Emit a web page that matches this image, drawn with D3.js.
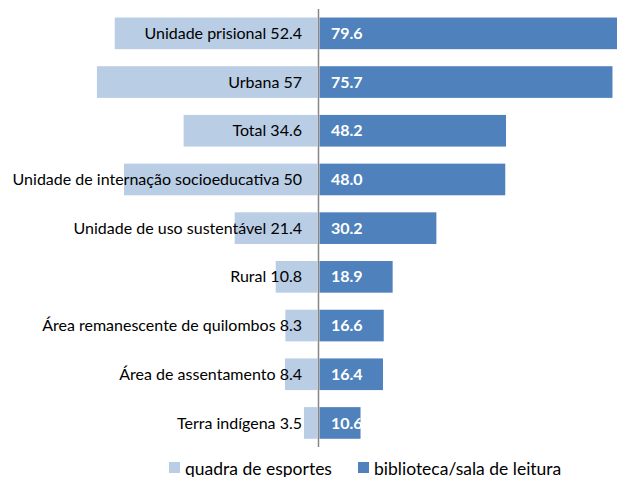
<!DOCTYPE html>
<html>
<head>
<meta charset="utf-8">
<script src="https://cdn.jsdelivr.net/npm/d3@7"></script>
<style>
  body { margin: 0; background: #fff; }
  svg { display: block; font-family: Lato, "Open Sans", sans-serif; }
</style>
</head>
<body>
<svg></svg>
<script>
var width = 617;
var height = 477;

var categories = [
  "Unidade prisional", "Urbana", "Total", "Unidade de internação socioeducativa",
  "Unidade de uso sustentável", "Rural", "Área remanescente de quilombos",
  "Área de assentamento", "Terra indígena"
];
var quadra = [52.4, 57, 34.6, 50, 21.4, 10.8, 8.3, 8.4, 3.5];
var quadraLabels = ["52.4", "57", "34.6", "50", "21.4", "10.8", "8.3", "8.4", "3.5"];
var biblioteca = [79.6, 75.7, 48.2, 48.0, 30.2, 18.9, 16.6, 16.4, 10.6];
var seriesNames = ["quadra de esportes", "biblioteca/sala de leitura"];
var colors = ["#b9cde5", "#4f81bd"];

var center = 318.5;

var svg = d3.select("svg")
    .attr("width", width)
    .attr("height", height);

var y = d3.scaleBand()
    .domain(categories)
    .range([9, 447.3])
    .paddingInner(0.35)
    .paddingOuter(0.175);

// same px per unit on both sides
var xR = d3.scaleLinear().domain([0, 80]).range([center + 1, center + 1 + 80 * 3.87]);
var xL = d3.scaleLinear().domain([0, 80]).range([center - 1, center - 1 - 80 * 3.87]);

// left bars
svg.append("g")
  .selectAll("rect")
  .data(categories)
  .enter()
  .append("rect")
    .attr("x", (d, i) => xL(quadra[i]))
    .attr("y", d => y(d))
    .attr("width", (d, i) => xL(0) - xL(quadra[i]))
    .attr("height", y.bandwidth())
    .attr("fill", colors[0]);

// right bars
svg.append("g")
  .selectAll("rect")
  .data(categories)
  .enter()
  .append("rect")
    .attr("x", xR(0))
    .attr("y", d => y(d))
    .attr("width", (d, i) => xR(biblioteca[i]) - xR(0))
    .attr("height", y.bandwidth())
    .attr("fill", colors[1]);

// left labels (category + value)
svg.append("g")
  .selectAll("text")
  .data(categories)
  .enter()
  .append("text")
    .attr("x", center - 16.5)
    .attr("y", d => y(d) + y.bandwidth() / 2)
    .attr("dy", "0.35em")
    .attr("text-anchor", "end")
    .style("font-size", "16px")
    .attr("fill", "#000")
    .text((d, i) => d + " " + quadraLabels[i]);

// right labels
svg.append("g")
  .selectAll("text")
  .data(categories)
  .enter()
  .append("text")
    .attr("x", center + 12.5)
    .attr("y", d => y(d) + y.bandwidth() / 2)
    .attr("dy", "0.35em")
    .style("font-size", "16px")
    .style("font-weight", "bold")
    .attr("fill", "#fff")
    .text((d, i) => biblioteca[i].toFixed(1));

// center axis
svg.append("line")
    .attr("x1", center).attr("x2", center)
    .attr("y1", 9).attr("y2", 447)
    .attr("stroke", "#868686")
    .attr("stroke-width", 1.5);

// legend
var legendX = [169, 358];
var legend = svg.append("g")
  .selectAll("g")
  .data(seriesNames)
  .enter()
  .append("g")
    .attr("transform", (d, i) => `translate(${legendX[i]}, 462)`);

legend.append("rect")
    .attr("width", 11)
    .attr("height", 11)
    .attr("fill", (d, i) => colors[i]);

legend.append("text")
    .attr("x", 16)
    .attr("y", 12.5)
    .style("font-size", "17.5px")
    .attr("fill", "#000")
    .text(d => d);
</script>
</body>
</html>
